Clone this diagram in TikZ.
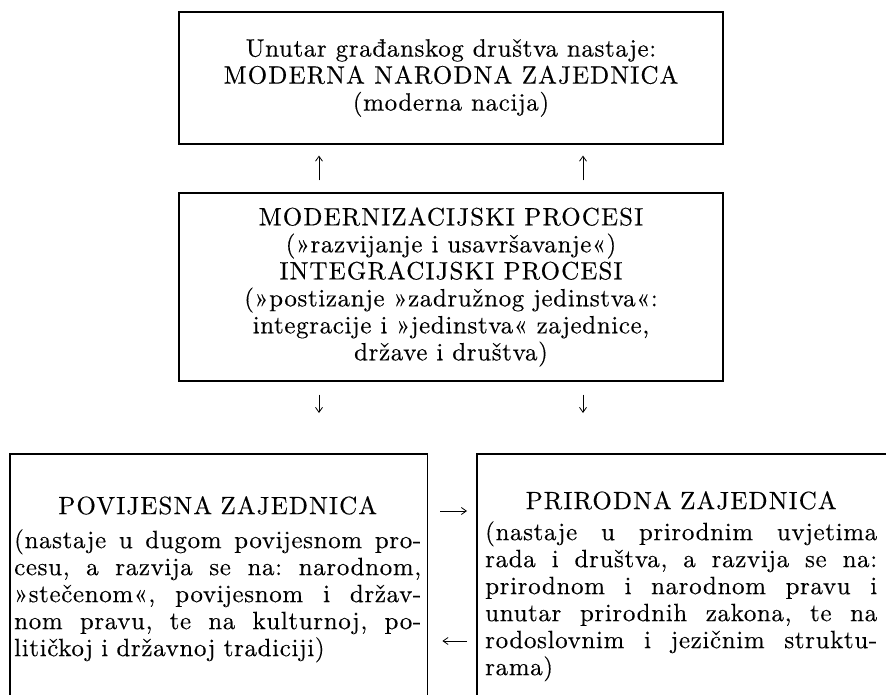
\documentclass[tikz,border=0pt]{standalone}
\usepackage{fontspec}
\setmainfont{lmroman10-regular.otf}[FakeBold=0.3]
\usetikzlibrary{arrows.meta}
\frenchspacing
\newcommand\spc[1]{{\addfontfeatures{LetterSpace=4.5}#1}}
\newcommand\jl[2]{{\spaceskip=0pt\xspaceskip=0pt\makebox[#1][s]{#2}}}
\begin{document}
\begin{tikzpicture}[x=1pt,y=-1pt,
  txt/.style={font=\fontsize{25}{27}\selectfont\addfontfeatures{LetterSpace=2.5}, inner sep=0pt},
  frame/.style={draw, line width=1.1pt, align=center, txt},
  open/.style={draw=none, minimum height=241pt, inner sep=0pt, anchor=north west},
  border/.style={line width=1.1pt},
  arr/.style={line width=0.8pt, -{Straight Barb[length=5pt,width=7pt,line width=0.8pt]}}]
\useasboundingbox (0,0) rectangle (886,695);
% top box
\node[frame, minimum width=544pt, minimum height=132pt] (top) at (451,78)
  {Unutar građanskog društva nastaje:\\
   \spc{MODERNA NARODNA ZAJEDNICA}\\
   (moderna nacija)};
% middle box
\node[frame, minimum width=544pt, minimum height=188pt] (mid) at (451,287)
  {\spc{MODERNIZACIJSKI PROCESI}\\
   (»razvijanje i usavršavanje«)\\
   \spc{INTEGRACIJSKI PROCESI}\\
   (»postizanje »zadružnog jedinstva«:\\
   integracije i »jedinstva« zajednice,\\
   države i društva)};
% bottom frames
\node[open, minimum width=417pt] (hist) at (10,454) {};
\node[open, minimum width=409pt] (nat) at (477,454) {};
\draw[border] (hist.south west) -- (hist.north west) -- (hist.north east) -- (hist.south east);
\draw[border] (nat.south west) -- (nat.north west) -- (nat.north east);
% bottom texts
\node[txt, anchor=north west, text width=407pt, align=left] (histtxt) at (14,496)
  {\makebox[407pt][c]{\spc{POVIJESNA ZAJEDNICA}}\\[7pt]
   \jl{407pt}{(nastaje u dugom povijesnom pro-}\\
   \jl{407pt}{cesu, a razvija se na: narodnom,}\\
   \jl{407pt}{»stečenom«, povijesnom i držav-}\\
   \jl{407pt}{nom pravu, te na kulturnoj, po-}\\
   litičkoj i državnoj tradiciji)};
\node[txt, anchor=north west, text width=392pt, align=left] (nattxt) at (485,491)
  {\makebox[392pt][c]{\spc{PRIRODNA ZAJEDNICA}}\\[4pt]
   \jl{392pt}{(nastaje u prirodnim uvjetima}\\
   \jl{392pt}{rada i društva, a razvija se na:}\\
   \jl{392pt}{prirodnom i narodnom pravu i}\\
   \jl{392pt}{unutar prirodnih zakona, te na}\\
   \jl{392pt}{rodoslovnim i jezičnim struktu-}\\
   rama)};
% arrow positions
\coordinate (ax1) at (319,0);
\coordinate (ax2) at (583,0);
\coordinate (ay1) at (0,511);
\coordinate (ay2) at (0,641);
\draw[arr, shorten <=12pt, shorten >=11pt] (mid.north -| ax1) -- (top.south -| ax1);
\draw[arr, shorten <=12pt, shorten >=11pt] (mid.north -| ax2) -- (top.south -| ax2);
\draw[arr, shorten <=13pt, shorten >=41pt] (mid.south -| ax1) -- (hist.north -| ax1);
\draw[arr, shorten <=13pt, shorten >=41pt] (mid.south -| ax2) -- (nat.north -| ax2);
\draw[arr, shorten <=13pt, shorten >=10pt] (hist.east |- ay1) -- (nat.west |- ay1);
\draw[arr, shorten <=10pt, shorten >=15pt] (nat.west |- ay2) -- (hist.east |- ay2);
\end{tikzpicture}
\end{document}
